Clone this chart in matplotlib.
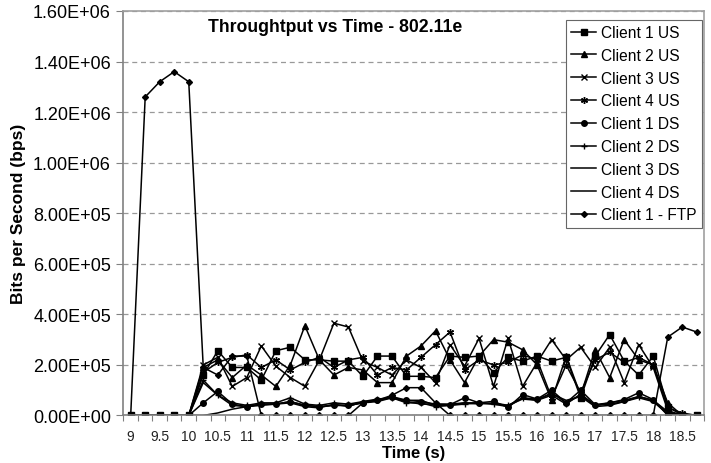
import numpy as np
import matplotlib
matplotlib.use('Agg')
import matplotlib.pyplot as plt
from matplotlib.ticker import FuncFormatter, MultipleLocator, FixedLocator

plt.rcParams['font.family'] = ['Liberation Sans', 'DejaVu Sans']

# time axis, one point every 0.25 s
t = [9 + 0.25 * i for i in range(40)]

# throughput values in units of 1e5 bps
z5 = [0, 0, 0, 0, 0]
c1_us = z5 + [1.6, 2.56, 1.9, 1.9, 1.4, 2.56, 2.7, 2.2, 2.2, 2.15, 2.15, 1.55,
              2.35, 2.35, 1.55, 1.55, 1.5, 2.35, 2.3, 2.35, 1.7, 2.3, 2.15, 2.35,
              2.15, 2.3, 0.7, 2.35, 3.2, 2.15, 1.6, 2.35, 0.35, 0, 0]
c2_us = z5 + [1.9, 2.2, 1.5, 2.0, 1.6, 1.15, 2.0, 3.55, 2.2, 1.6, 1.9, 1.8,
              1.3, 1.3, 2.35, 2.75, 3.35, 2.2, 1.3, 2.35, 3.0, 2.9, 2.6, 2.0,
              0.6, 2.35, 0.8, 2.6, 1.5, 3.0, 2.2, 2.0, 0.5, 0, 0]
c3_us = z5 + [2.0, 2.3, 1.15, 1.5, 2.75, 1.95, 1.5, 1.15, 2.2, 3.65, 3.5, 2.15,
              1.9, 1.6, 2.2, 1.9, 1.3, 2.8, 1.95, 3.05, 1.15, 3.05, 1.15, 2.1,
              3.0, 2.2, 2.7, 1.9, 2.7, 1.3, 2.8, 1.9, 0.2, 0, 0]
c4_us = z5 + [1.7, 2.1, 2.3, 2.4, 1.9, 2.2, 1.8, 2.1, 2.3, 1.9, 2.2, 2.3,
              1.6, 1.9, 1.8, 2.3, 2.8, 3.3, 1.8, 2.2, 2.0, 2.1, 2.4, 2.2,
              0.7, 2.0, 0.9, 2.2, 2.5, 2.1, 2.3, 2.0, 0.3, 0.1, 0]
c1_ds = z5 + [0.5, 0.95, 0.45, 0.35, 0.45, 0.45, 0.55, 0.4, 0.35, 0.4, 0.4, 0.5,
              0.6, 0.75, 0.6, 0.55, 0.45, 0.43, 0.7, 0.5, 0.56, 0.32, 0.83, 0.65,
              1.0, 0.5, 1.0, 0.43, 0.5, 0.63, 0.9, 0.63, 0, 0, 0]
c2_ds = z5 + [1.4, 0.8, 0.5, 0.4, 0.5, 0.5, 0.7, 0.45, 0.4, 0.5, 0.45, 0.55,
              0.65, 0.7, 0.5, 0.5, 0.35, 0.4, 0.45, 0.5, 0.45, 0.4, 0.7, 0.6,
              0.8, 0.45, 0.85, 0.4, 0.5, 0.6, 0.75, 0.6, 0.1, 0, 0]
c3_ds = z5 + [0, 0.1, 0.25, 0.35, 0.4, 0.45, 0.5, 0.35, 0.3, 0.45, 0.35, 0.55,
              0.6, 0.7, 0.55, 0.45, 0.45, 0.45, 0.5, 0.5, 0.45, 0.35, 0.7, 0.65,
              0.85, 0.6, 0.75, 0.35, 0.4, 0.55, 0.7, 0.55, 0.05, 0, 0]
c4_ds = z5 + [1.3, 0.8, 0.4, 0.35, 0.45, 0.45, 0.55, 0.4, 0.35, 0.4, 0.4, 0.5,
              0.55, 0.7, 0.6, 0.6, 0.4, 0.4, 0.5, 0.45, 0.5, 0.4, 0.65, 0.6,
              0.9, 0.5, 0.8, 0.4, 0.45, 0.55, 0.75, 0.6, 0.15, 0, 0]
ftp = [0, 12.6, 13.2, 13.6, 13.2,
       1.9, 1.6, 2.35, 2.35, 0, 0, 0, 0, 0, 0, 0, 0.5,
       0.6, 0.8, 1.1, 1.1, 0.5, 0, 0, 0, 0, 0, 0, 0,
       0, 0, 0, 0, 0, 0, 0, 0, 3.1, 3.5, 3.3]

series = [
    ('Client 1 US', c1_us, 's', 3.8),
    ('Client 2 US', c2_us, '^', 4.2),
    ('Client 3 US', c3_us, 'x', 4.5),
    ('Client 4 US', c4_us, (6, 2, 0), 5),
    ('Client 1 DS', c1_ds, 'o', 4),
    ('Client 2 DS', c2_ds, '+', 5),
    ('Client 3 DS', c3_ds, 'None', 0),
    ('Client 4 DS', c4_ds, 'None', 0),
    ('Client 1 - FTP', ftp, 'D', 3),
]

fig = plt.figure(figsize=(7.11, 4.64), dpi=100)
ax = fig.add_axes([0.1736, 0.1024, 0.8166, 0.8718])

for name, vals, mk, ms in series:
    ax.plot(t, np.array(vals) * 1e5, color='black', linewidth=1.1,
            marker=mk, markersize=ms, markeredgewidth=1.0, label=name)

ax.set_xlim(8.875, 18.875)
ax.set_ylim(0, 1.6e6)
ax.xaxis.set_major_locator(MultipleLocator(0.5))
ax.xaxis.set_minor_locator(FixedLocator([8.875 + 0.25 * k for k in range(41)]))
ax.xaxis.set_major_formatter(FuncFormatter(lambda v, p: f'{v:g}'))
ax.yaxis.set_major_locator(MultipleLocator(2e5))
ax.yaxis.set_major_formatter(FuncFormatter(lambda v, p: f'{v:.2E}'))

ax.tick_params(axis='x', which='major', length=0, pad=10, labelsize=10, labelcolor='#222222')
ax.tick_params(axis='x', which='minor', length=4, width=0.8, color='#808080', direction='out')
ax.tick_params(axis='y', length=5, width=0.8, color='#808080', pad=4, labelsize=13)

ax.grid(axis='y', color='#999999', linestyle=(0, (4, 3)), linewidth=0.9)
ax.set_axisbelow(True)
for side in ['left', 'bottom']:
    ax.spines[side].set_color('#808080')
    ax.spines[side].set_linewidth(1.2)
for side in ['right', 'top']:
    ax.spines[side].set_color('#a0a0a0')
    ax.spines[side].set_linewidth(1.2)

ax.set_xlabel('Time (s)', fontsize=12, fontweight='bold', labelpad=1)
ax.set_ylabel('Bits per Second (bps)', fontsize=12.5, fontweight='bold', labelpad=5)

fig.text(0.472, 1 - 28 / 464, 'Throughtput vs Time - 802.11e', ha='center', va='center',
         fontsize=12.7, fontweight='bold')

leg = ax.legend(loc='upper right', bbox_to_anchor=(702 / 711, 1 - 20.7 / 464),
                bbox_transform=fig.transFigure, fontsize=11.2, frameon=True,
                fancybox=False, borderaxespad=0, handlelength=1.6,
                handletextpad=0.3, labelspacing=0.5, borderpad=0.35)
leg.get_frame().set_edgecolor('#666666')
leg.get_frame().set_linewidth(0.8)
leg.get_frame().set_alpha(1)

fig.savefig('out.png', dpi=100)
